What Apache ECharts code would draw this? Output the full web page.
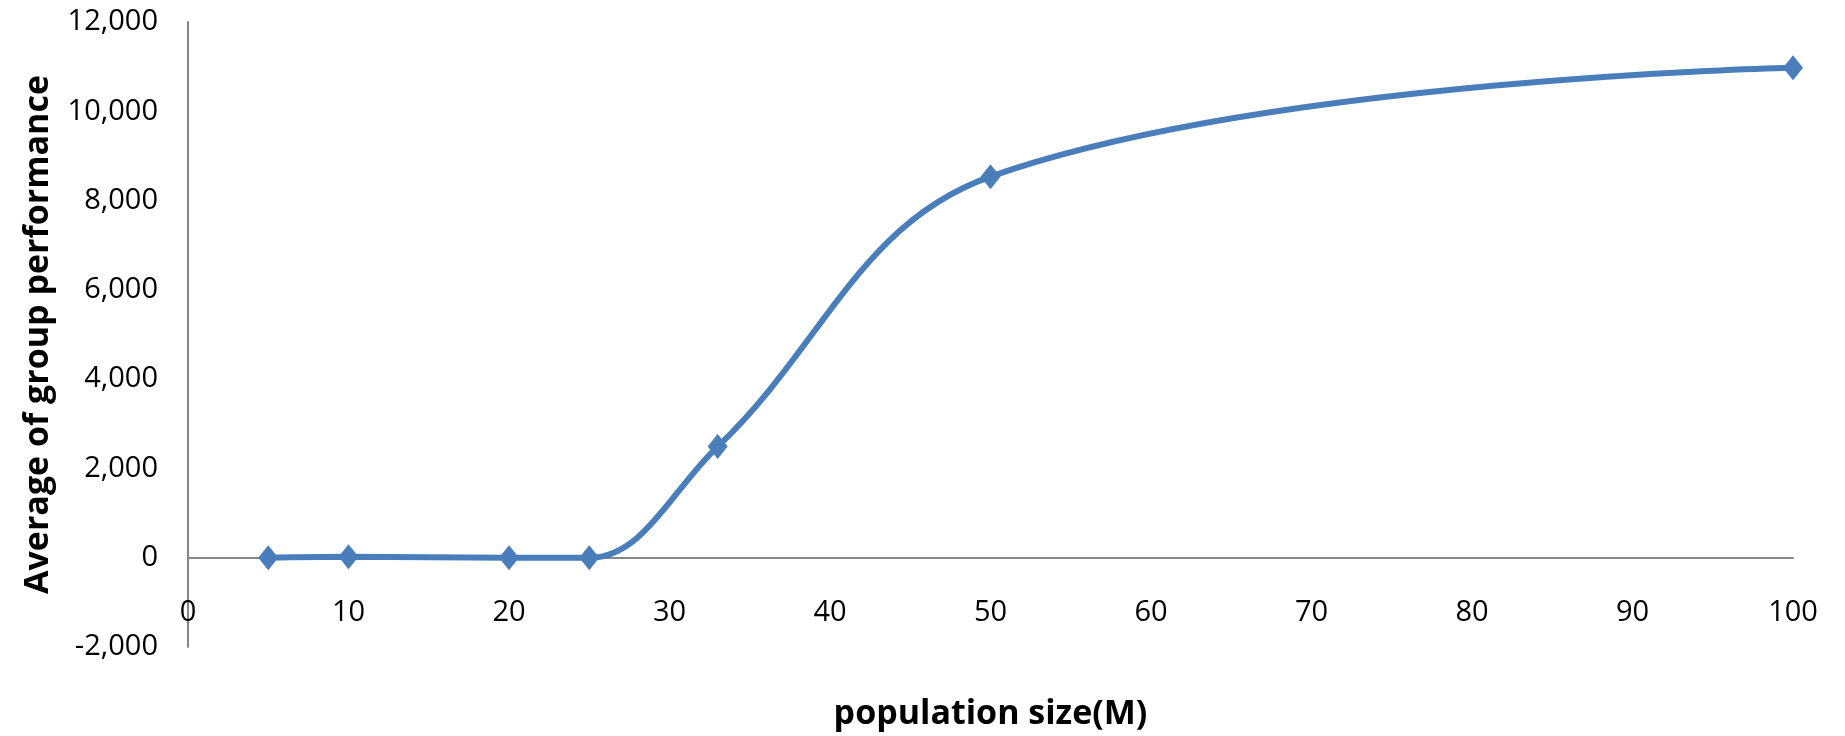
<!DOCTYPE html>
<html>
<head>
<meta charset="utf-8">
<script src="https://cdn.jsdelivr.net/npm/echarts@6/dist/echarts.min.js"></script>
<style>
html,body{margin:0;padding:0;background:#fff;}
#chart{width:1845px;height:736px;}
</style>
</head>
<body>
<div id="chart"></div>
<script>
const populationSize = [5, 10, 20, 25, 33, 50, 100];
const groupPerformance = [0, 20, 0, 0, 2490, 8535, 10975];
const xTitle = 'population size(M)';
const yTitle = 'Average of group performance';

const chart = echarts.init(document.getElementById('chart'));
const fontFamily = '"Open Sans", sans-serif';
chart.setOption({
  animation: false,
  backgroundColor: '#ffffff',
  grid: { left: 188, right: 52, top: 22, bottom: 89, containLabel: false, outerBoundsMode: 'none' },
  xAxis: {
    type: 'value',
    min: 0, max: 100, interval: 10,
    name: xTitle,
    nameLocation: 'middle',
    nameGap: 50,
    nameMoveOverlap: false,
    nameTextStyle: { fontFamily, fontWeight: 'bold', fontSize: 34, color: '#000' },
    axisLine: { onZero: true, lineStyle: { color: '#868686', width: 2 } },
    axisTick: { show: false },
    splitLine: { show: false },
    axisLabel: { fontFamily, fontSize: 29, color: '#000', margin: -49 }
  },
  yAxis: {
    type: 'value',
    min: -2000, max: 12000, interval: 2000,
    name: yTitle,
    nameLocation: 'middle',
    nameGap: 133,
    nameTextStyle: { fontFamily, fontWeight: 'bold', fontSize: 34, color: '#000' },
    axisLine: { show: true, lineStyle: { color: '#868686', width: 2 } },
    axisTick: { show: false },
    splitLine: { show: false },
    axisLabel: {
      fontFamily, fontSize: 29, color: '#000', margin: 30,
      formatter: v => v.toLocaleString('en-US')
    }
  },
  series: [{
    type: 'line',
    data: populationSize.map((x, i) => [x, groupPerformance[i]]),
    smooth: 0.38,
    symbol: 'diamond',
    symbolSize: [20, 25],
    lineStyle: { color: '#4a7ebb', width: 6 },
    itemStyle: { color: '#4a7ebb' }
  }]
});
</script>
</body>
</html>
